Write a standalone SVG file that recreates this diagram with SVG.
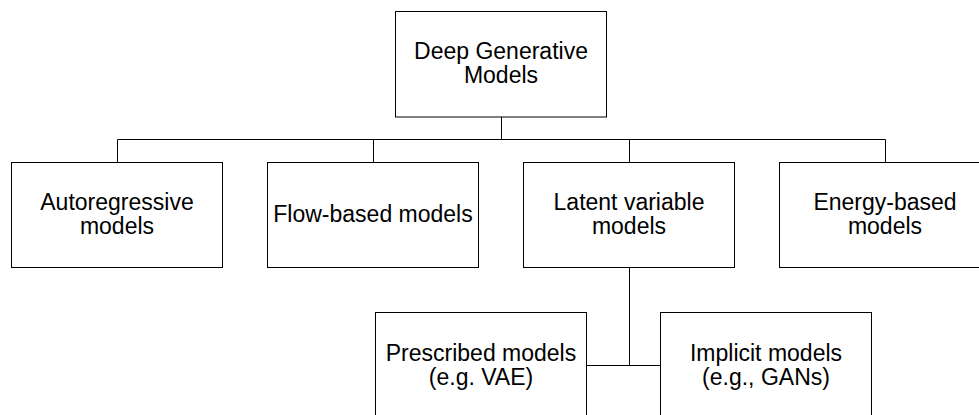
<svg xmlns="http://www.w3.org/2000/svg" width="979" height="415" viewBox="0 0 979 415">
<style>
.box{fill:#fff;stroke:#000;stroke-width:1}
.lbl{font-family:"Liberation Sans",Arial,sans-serif;font-size:23px;fill:#000;text-anchor:middle}
.edge{fill:none;stroke:#000;stroke-width:1}
</style>
<rect width="979" height="415" fill="#fff"/>
<g id="connectors">
<path class="edge" d="M501.5 117 V139.5 M117.5 139.5 H885.5 M117.5 139.5 V162 M373.5 139.5 V162 M629.5 139.5 V162 M885.5 139.5 V162"/>
<path class="edge" d="M629.5 267.5 V365.5 M586.5 365.5 H660.5"/>
</g>
<g id="root">
<rect class="box" x="395.5" y="11.5" width="211" height="105.5"/>
<text class="lbl" x="501" y="59">Deep Generative</text>
<text class="lbl" x="501" y="83">Models</text>
</g>
<g id="autoregressive">
<rect class="box" x="11.5" y="162.5" width="211" height="105"/>
<text class="lbl" x="117" y="210">Autoregressive</text>
<text class="lbl" x="117" y="234">models</text>
</g>
<g id="flow">
<rect class="box" x="267.5" y="162.5" width="211" height="105"/>
<text class="lbl" x="373" y="222">Flow-based models</text>
</g>
<g id="latent">
<rect class="box" x="523.5" y="162.5" width="211" height="105"/>
<text class="lbl" x="629" y="210">Latent variable</text>
<text class="lbl" x="629" y="234">models</text>
</g>
<g id="energy">
<rect class="box" x="779.5" y="162.5" width="211" height="105"/>
<text class="lbl" x="885" y="210">Energy-based</text>
<text class="lbl" x="885" y="234">models</text>
</g>
<g id="prescribed">
<rect class="box" x="375.5" y="312.5" width="211" height="105"/>
<text class="lbl" x="481" y="361">Prescribed models</text>
<text class="lbl" x="481" y="385">(e.g. VAE)</text>
</g>
<g id="implicit">
<rect class="box" x="660.5" y="312.5" width="211" height="105"/>
<text class="lbl" x="766" y="361">Implicit models</text>
<text class="lbl" x="766" y="385">(e.g., GANs)</text>
</g>
</svg>
